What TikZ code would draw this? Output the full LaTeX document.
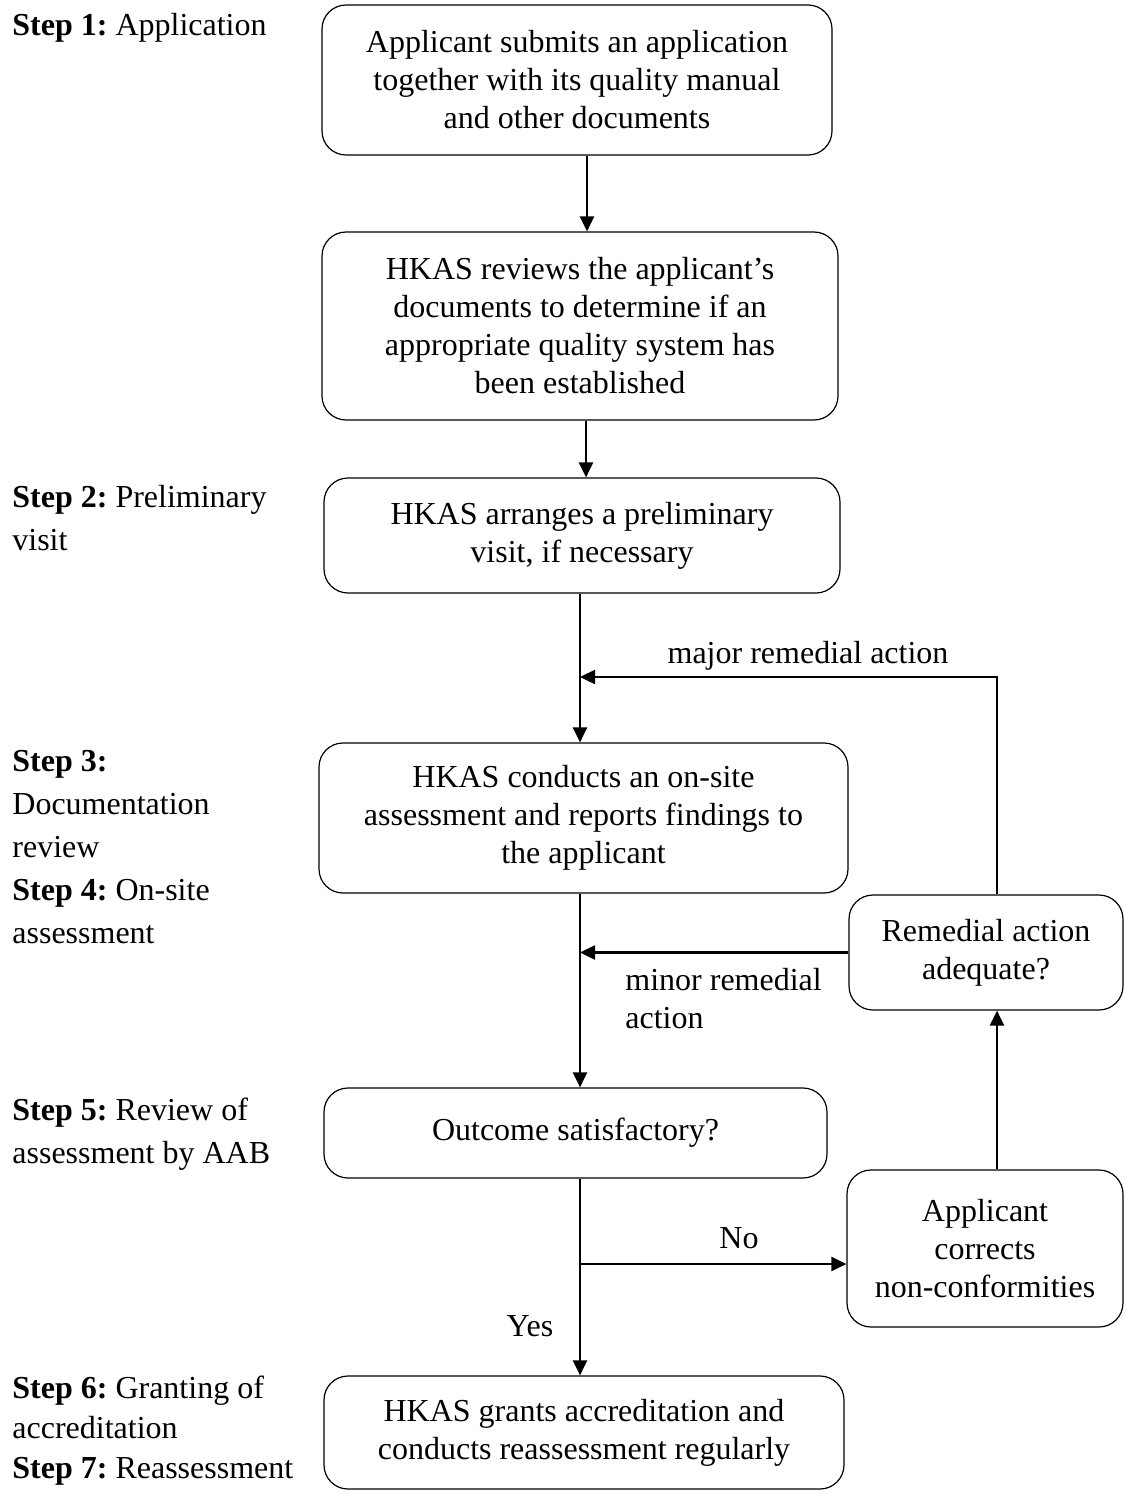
\documentclass[tikz,border=0pt]{standalone}
\usepackage{fontspec}
\setmainfont{Liberation Serif}
\usetikzlibrary{arrows.meta}
\frenchspacing
\begin{document}
\begin{tikzpicture}[x=0.5pt, y=-0.5pt,
    box/.style={draw, line width=0.6pt, rounded corners=12pt, align=center, font=\fontsize{16}{19}\selectfont, inner sep=0pt},
    conn/.style={line width=1.2pt, -{Triangle[length=7.5pt, width=7pt]}},
    steplabel/.style={anchor=west, align=left, inner sep=0pt, font=\fontsize{16}{21.5}\selectfont}]
        \useasboundingbox (0,0) rectangle (1124,1493);
        \node [box, minimum width=255pt, minimum height=75pt] (apply) at (577,80) {Applicant submits an application\\together with its quality manual\\and other documents};
        \node [box, minimum width=258pt, minimum height=94pt] (review) at (580,326) {HKAS reviews the applicant's\\documents to determine if an\\appropriate quality system has\\been established};
        \node [box, minimum width=258pt, minimum height=57.5pt] (visit) at (582,535.5) {HKAS arranges a preliminary\\visit, if necessary};
        \node [box, minimum width=264.5pt, minimum height=75pt] (onsite) at (583.5,818) {HKAS conducts an on-site\\assessment and reports findings to\\the applicant};
        \node [box, minimum width=137pt, minimum height=57.5pt] (adequate) at (986,952.5) {Remedial action\\adequate?};
        \node [box, minimum width=251.5pt, minimum height=45pt] (outcome) at (575.5,1133) {Outcome satisfactory?};
        \node [box, minimum width=138pt, minimum height=78.5pt] (corrects) at (985,1248.5) {Applicant\\corrects\\non-conformities};
        \node [box, minimum width=260pt, minimum height=56.5pt] (grants) at (584,1432.5) {HKAS grants accreditation and\\conducts reassessment regularly};
        \node [steplabel] (s1) at (12,28) {\textbf{Step 1:} Application};
        \node [steplabel] (s2) at (12,518.5) {\textbf{Step 2:} Preliminary\\visit};
        \node [steplabel] (s34) at (12,847.5) {\textbf{Step 3:}\\Documentation\\review\\\textbf{Step 4:} On-site\\assessment};
        \node [steplabel] (s5) at (12,1134) {\textbf{Step 5:} Review of\\assessment by AAB};
        \node [steplabel, font=\fontsize{16}{20}\selectfont] (s67) at (12,1431) {\textbf{Step 6:} Granting of\\accreditation\\\textbf{Step 7:} Reassessment};
        \coordinate (major) at (580,677);
        \coordinate (split) at (580,1264);
        \draw [conn] (apply.south -| 587,0) -- (review.north -| 587,0);
        \draw [conn] (review.south -| 586,0) -- (visit.north -| 586,0);
        \draw [conn] (visit.south -| major) -- (onsite.north -| major);
        \draw [conn] (adequate.north -| 997,0) |- (major);
        \draw [conn] (onsite.south -| major) -- (outcome.north -| major);
        \draw [conn] (adequate.west) -- (adequate.west -| major);
        \draw [conn] (outcome.south -| major) -- (grants.north -| major);
        \draw [conn] (split) -- (split -| corrects.west);
        \draw [conn] (corrects.north -| 997,0) -- (adequate.south -| 997,0);
        \node [font=\fontsize{16}{19}\selectfont] (majorlbl) at (808,656) {major remedial action};
        \node [anchor=west, align=left, inner sep=0pt, font=\fontsize{16}{19}\selectfont] (minorlbl) at (625,999) {minor remedial\\action};
        \node [font=\fontsize{16}{19}\selectfont] (nolbl) at (739,1238) {No};
        \node [font=\fontsize{16}{19}\selectfont] (yeslbl) at (530,1326) {Yes};
\end{tikzpicture}
\end{document}
